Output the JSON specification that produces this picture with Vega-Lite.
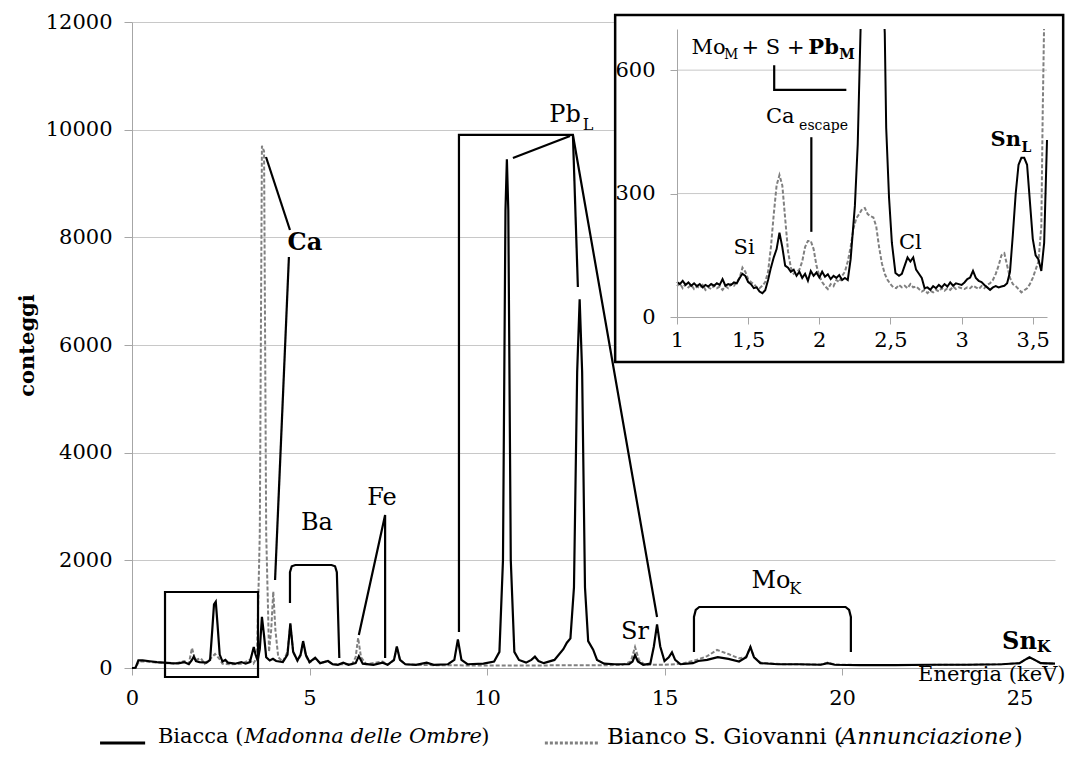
{
"$schema":"https://vega.github.io/schema/vega-lite/v6.json",
"width":923,"height":639,
"autosize":{"type":"none"},
"padding":{"left":132,"top":29,"right":14,"bottom":90},
"background":"white",
"config":{"view":{"stroke":null},"font":"DejaVu Serif",
 "text":{"font":"DejaVu Serif"},
 "axis":{"labelFont":"DejaVu Serif","titleFont":"DejaVu Serif","labelColor":"black","titleColor":"black","domainColor":"#A6A6A6","tickColor":"#A6A6A6","gridColor":"#C8C8C8","labelFontSize":21,"labelOverlap":false,"labelFlush":false}},
"datasets":{
"mainBlack":[{"x":0,"y":0},{"x":0.1,"y":5},{"x":0.18,"y":140},{"x":0.3,"y":140},{"x":0.5,"y":125},{"x":0.7,"y":110},{"x":0.9,"y":100},{"x":1.1,"y":90},{"x":1.3,"y":85},{"x":1.47,"y":110},{"x":1.6,"y":70},{"x":1.68,"y":140},{"x":1.74,"y":210},{"x":1.8,"y":130},{"x":1.9,"y":110},{"x":2.1,"y":100},{"x":2.2,"y":150},{"x":2.26,"y":700},{"x":2.31,"y":1180},{"x":2.36,"y":1230},{"x":2.41,"y":800},{"x":2.47,"y":250},{"x":2.55,"y":120},{"x":2.63,"y":150},{"x":2.7,"y":100},{"x":2.9,"y":80},{"x":3.08,"y":110},{"x":3.2,"y":80},{"x":3.32,"y":110},{"x":3.38,"y":260},{"x":3.43,"y":390},{"x":3.48,"y":250},{"x":3.54,"y":140},{"x":3.6,"y":350},{"x":3.66,"y":950},{"x":3.72,"y":600},{"x":3.78,"y":200},{"x":3.88,"y":140},{"x":3.97,"y":170},{"x":4.06,"y":130},{"x":4.25,"y":110},{"x":4.38,"y":250},{"x":4.46,"y":830},{"x":4.54,"y":300},{"x":4.66,"y":140},{"x":4.75,"y":250},{"x":4.82,"y":500},{"x":4.9,"y":240},{"x":5.0,"y":110},{"x":5.16,"y":190},{"x":5.3,"y":90},{"x":5.52,"y":130},{"x":5.65,"y":70},{"x":5.8,"y":60},{"x":5.95,"y":100},{"x":6.1,"y":60},{"x":6.3,"y":90},{"x":6.39,"y":220},{"x":6.5,"y":80},{"x":6.8,"y":60},{"x":7.06,"y":100},{"x":7.2,"y":60},{"x":7.38,"y":150},{"x":7.46,"y":400},{"x":7.55,"y":150},{"x":7.7,"y":70},{"x":8.0,"y":60},{"x":8.3,"y":100},{"x":8.5,"y":60},{"x":8.9,"y":70},{"x":9.08,"y":150},{"x":9.18,"y":530},{"x":9.28,"y":150},{"x":9.45,"y":70},{"x":9.9,"y":80},{"x":10.2,"y":120},{"x":10.35,"y":300},{"x":10.45,"y":2000},{"x":10.52,"y":8500},{"x":10.56,"y":9450},{"x":10.6,"y":8500},{"x":10.67,"y":2000},{"x":10.77,"y":300},{"x":10.9,"y":150},{"x":11.1,"y":100},{"x":11.25,"y":150},{"x":11.35,"y":210},{"x":11.45,"y":130},{"x":11.6,"y":90},{"x":11.9,"y":150},{"x":12.15,"y":350},{"x":12.25,"y":470},{"x":12.35,"y":550},{"x":12.45,"y":1500},{"x":12.54,"y":5500},{"x":12.61,"y":6850},{"x":12.68,"y":5500},{"x":12.76,"y":1500},{"x":12.85,"y":500},{"x":12.99,"y":340},{"x":13.1,"y":150},{"x":13.3,"y":80},{"x":13.6,"y":70},{"x":14.0,"y":70},{"x":14.1,"y":120},{"x":14.17,"y":240},{"x":14.25,"y":120},{"x":14.4,"y":60},{"x":14.6,"y":80},{"x":14.7,"y":400},{"x":14.79,"y":810},{"x":14.88,"y":400},{"x":15.0,"y":130},{"x":15.12,"y":200},{"x":15.21,"y":290},{"x":15.3,"y":150},{"x":15.45,"y":70},{"x":15.8,"y":90},{"x":15.95,"y":130},{"x":16.2,"y":150},{"x":16.5,"y":200},{"x":16.8,"y":170},{"x":17.1,"y":120},{"x":17.3,"y":200},{"x":17.42,"y":390},{"x":17.52,"y":200},{"x":17.7,"y":90},{"x":18.2,"y":70},{"x":18.8,"y":70},{"x":19.4,"y":60},{"x":19.6,"y":90},{"x":19.8,"y":60},{"x":20.5,"y":55},{"x":21.5,"y":55},{"x":22.5,"y":60},{"x":23.5,"y":60},{"x":24.5,"y":70},{"x":25.0,"y":90},{"x":25.15,"y":150},{"x":25.28,"y":200},{"x":25.4,"y":160},{"x":25.6,"y":90},{"x":26,"y":80}],
"mainGray":[{"x":0,"y":0},{"x":0.1,"y":5},{"x":0.2,"y":120},{"x":0.4,"y":120},{"x":0.6,"y":105},{"x":0.9,"y":95},{"x":1.2,"y":80},{"x":1.47,"y":130},{"x":1.6,"y":80},{"x":1.69,"y":370},{"x":1.78,"y":150},{"x":1.94,"y":180},{"x":2.05,"y":80},{"x":2.25,"y":200},{"x":2.34,"y":260},{"x":2.45,"y":180},{"x":2.55,"y":80},{"x":2.8,"y":70},{"x":3.1,"y":80},{"x":3.3,"y":150},{"x":3.42,"y":80},{"x":3.52,"y":200},{"x":3.6,"y":2500},{"x":3.66,"y":9700},{"x":3.72,"y":9600},{"x":3.78,"y":2500},{"x":3.86,"y":300},{"x":3.92,"y":700},{"x":3.98,"y":1420},{"x":4.04,"y":700},{"x":4.12,"y":200},{"x":4.25,"y":120},{"x":4.38,"y":300},{"x":4.46,"y":800},{"x":4.54,"y":300},{"x":4.66,"y":130},{"x":4.75,"y":230},{"x":4.82,"y":470},{"x":4.9,"y":220},{"x":5.0,"y":100},{"x":5.16,"y":180},{"x":5.3,"y":90},{"x":5.52,"y":130},{"x":5.65,"y":70},{"x":5.9,"y":70},{"x":6.2,"y":70},{"x":6.3,"y":200},{"x":6.37,"y":560},{"x":6.45,"y":200},{"x":6.6,"y":70},{"x":7.06,"y":120},{"x":7.2,"y":60},{"x":7.38,"y":140},{"x":7.46,"y":380},{"x":7.55,"y":150},{"x":7.7,"y":70},{"x":8.2,"y":55},{"x":9.0,"y":50},{"x":10.0,"y":45},{"x":11,"y":45},{"x":12,"y":50},{"x":13,"y":50},{"x":13.8,"y":55},{"x":14.05,"y":120},{"x":14.17,"y":390},{"x":14.28,"y":150},{"x":14.45,"y":60},{"x":15,"y":60},{"x":15.5,"y":80},{"x":15.95,"y":160},{"x":16.2,"y":220},{"x":16.48,"y":335},{"x":16.8,"y":260},{"x":17.1,"y":180},{"x":17.3,"y":200},{"x":17.42,"y":390},{"x":17.52,"y":200},{"x":17.7,"y":100},{"x":18.3,"y":70},{"x":19.4,"y":65},{"x":19.6,"y":100},{"x":19.8,"y":65},{"x":20.5,"y":55},{"x":21.5,"y":55},{"x":22.5,"y":58},{"x":23.5,"y":60},{"x":24.5,"y":70},{"x":25.0,"y":90},{"x":25.2,"y":170},{"x":25.3,"y":190},{"x":25.45,"y":140},{"x":25.6,"y":90},{"x":26,"y":80}],
"insetBlack":[{"x":1.0,"y":85},{"x":1.02,"y":80},{"x":1.04,"y":88},{"x":1.06,"y":78},{"x":1.08,"y":84},{"x":1.1,"y":76},{"x":1.12,"y":82},{"x":1.14,"y":75},{"x":1.16,"y":80},{"x":1.18,"y":72},{"x":1.2,"y":78},{"x":1.22,"y":74},{"x":1.24,"y":80},{"x":1.26,"y":76},{"x":1.28,"y":82},{"x":1.3,"y":78},{"x":1.32,"y":92},{"x":1.34,"y":76},{"x":1.36,"y":80},{"x":1.38,"y":78},{"x":1.4,"y":84},{"x":1.42,"y":82},{"x":1.44,"y":95},{"x":1.46,"y":105},{"x":1.48,"y":100},{"x":1.5,"y":85},{"x":1.52,"y":80},{"x":1.54,"y":70},{"x":1.56,"y":72},{"x":1.58,"y":62},{"x":1.6,"y":58},{"x":1.62,"y":65},{"x":1.64,"y":90},{"x":1.66,"y":120},{"x":1.68,"y":145},{"x":1.7,"y":165},{"x":1.72,"y":205},{"x":1.74,"y":170},{"x":1.76,"y":125},{"x":1.78,"y":120},{"x":1.8,"y":110},{"x":1.82,"y":115},{"x":1.84,"y":100},{"x":1.86,"y":110},{"x":1.88,"y":95},{"x":1.9,"y":105},{"x":1.92,"y":88},{"x":1.94,"y":112},{"x":1.96,"y":100},{"x":1.98,"y":108},{"x":2.0,"y":96},{"x":2.02,"y":110},{"x":2.04,"y":98},{"x":2.06,"y":104},{"x":2.08,"y":92},{"x":2.1,"y":100},{"x":2.12,"y":95},{"x":2.14,"y":102},{"x":2.16,"y":90},{"x":2.18,"y":95},{"x":2.2,"y":90},{"x":2.22,"y":140},{"x":2.25,"y":270},{"x":2.27,"y":420},{"x":2.29,"y":700},{"x":2.32,"y":1100},{"x":2.36,"y":1230},{"x":2.4,"y":1150},{"x":2.44,"y":850},{"x":2.46,"y":690},{"x":2.47,"y":460},{"x":2.49,"y":290},{"x":2.51,"y":180},{"x":2.535,"y":107},{"x":2.56,"y":100},{"x":2.58,"y":105},{"x":2.6,"y":125},{"x":2.62,"y":145},{"x":2.64,"y":135},{"x":2.66,"y":145},{"x":2.68,"y":115},{"x":2.7,"y":105},{"x":2.72,"y":95},{"x":2.74,"y":70},{"x":2.76,"y":72},{"x":2.78,"y":66},{"x":2.8,"y":75},{"x":2.82,"y":70},{"x":2.84,"y":78},{"x":2.86,"y":72},{"x":2.88,"y":80},{"x":2.9,"y":74},{"x":2.92,"y":84},{"x":2.94,"y":76},{"x":2.96,"y":82},{"x":2.98,"y":80},{"x":3.0,"y":78},{"x":3.02,"y":84},{"x":3.04,"y":92},{"x":3.06,"y":96},{"x":3.08,"y":112},{"x":3.1,"y":95},{"x":3.12,"y":88},{"x":3.14,"y":85},{"x":3.16,"y":78},{"x":3.18,"y":72},{"x":3.2,"y":66},{"x":3.22,"y":72},{"x":3.24,"y":75},{"x":3.26,"y":72},{"x":3.28,"y":74},{"x":3.3,"y":76},{"x":3.32,"y":82},{"x":3.34,"y":110},{"x":3.36,"y":200},{"x":3.38,"y":300},{"x":3.4,"y":370},{"x":3.42,"y":387},{"x":3.44,"y":387},{"x":3.46,"y":370},{"x":3.48,"y":280},{"x":3.5,"y":190},{"x":3.52,"y":150},{"x":3.54,"y":140},{"x":3.56,"y":112},{"x":3.58,"y":180},{"x":3.6,"y":430}],
"insetGray":[{"x":1.0,"y":75},{"x":1.02,"y":82},{"x":1.04,"y":70},{"x":1.06,"y":80},{"x":1.08,"y":72},{"x":1.1,"y":78},{"x":1.12,"y":68},{"x":1.14,"y":74},{"x":1.16,"y":70},{"x":1.18,"y":78},{"x":1.2,"y":66},{"x":1.22,"y":72},{"x":1.24,"y":68},{"x":1.26,"y":76},{"x":1.28,"y":70},{"x":1.3,"y":74},{"x":1.32,"y":66},{"x":1.34,"y":75},{"x":1.36,"y":70},{"x":1.38,"y":80},{"x":1.4,"y":76},{"x":1.42,"y":85},{"x":1.44,"y":95},{"x":1.46,"y":120},{"x":1.48,"y":110},{"x":1.5,"y":92},{"x":1.52,"y":85},{"x":1.54,"y":80},{"x":1.56,"y":72},{"x":1.58,"y":70},{"x":1.6,"y":76},{"x":1.62,"y":85},{"x":1.64,"y":110},{"x":1.66,"y":170},{"x":1.68,"y":250},{"x":1.7,"y":320},{"x":1.72,"y":345},{"x":1.74,"y":320},{"x":1.76,"y":240},{"x":1.78,"y":160},{"x":1.8,"y":120},{"x":1.82,"y":105},{"x":1.84,"y":110},{"x":1.86,"y":115},{"x":1.88,"y":135},{"x":1.9,"y":170},{"x":1.92,"y":185},{"x":1.94,"y":185},{"x":1.96,"y":165},{"x":1.98,"y":125},{"x":2.0,"y":100},{"x":2.02,"y":85},{"x":2.04,"y":75},{"x":2.06,"y":68},{"x":2.08,"y":80},{"x":2.1,"y":75},{"x":2.12,"y":90},{"x":2.14,"y":85},{"x":2.16,"y":100},{"x":2.18,"y":110},{"x":2.2,"y":135},{"x":2.22,"y":170},{"x":2.24,"y":215},{"x":2.26,"y":240},{"x":2.28,"y":250},{"x":2.3,"y":262},{"x":2.32,"y":265},{"x":2.34,"y":250},{"x":2.36,"y":245},{"x":2.38,"y":242},{"x":2.4,"y":220},{"x":2.42,"y":170},{"x":2.44,"y":130},{"x":2.46,"y":105},{"x":2.48,"y":90},{"x":2.5,"y":80},{"x":2.52,"y":72},{"x":2.54,"y":70},{"x":2.56,"y":78},{"x":2.58,"y":72},{"x":2.6,"y":76},{"x":2.62,"y":70},{"x":2.64,"y":80},{"x":2.66,"y":72},{"x":2.68,"y":74},{"x":2.7,"y":68},{"x":2.72,"y":62},{"x":2.74,"y":66},{"x":2.76,"y":58},{"x":2.78,"y":64},{"x":2.8,"y":60},{"x":2.82,"y":66},{"x":2.84,"y":62},{"x":2.86,"y":70},{"x":2.88,"y":64},{"x":2.9,"y":70},{"x":2.92,"y":66},{"x":2.94,"y":74},{"x":2.96,"y":68},{"x":2.98,"y":72},{"x":3.0,"y":70},{"x":3.02,"y":68},{"x":3.04,"y":72},{"x":3.06,"y":70},{"x":3.08,"y":76},{"x":3.1,"y":72},{"x":3.12,"y":68},{"x":3.14,"y":75},{"x":3.16,"y":70},{"x":3.18,"y":78},{"x":3.2,"y":82},{"x":3.22,"y":90},{"x":3.24,"y":105},{"x":3.26,"y":125},{"x":3.28,"y":150},{"x":3.3,"y":155},{"x":3.32,"y":125},{"x":3.34,"y":95},{"x":3.36,"y":80},{"x":3.38,"y":75},{"x":3.4,"y":68},{"x":3.42,"y":60},{"x":3.44,"y":65},{"x":3.46,"y":70},{"x":3.48,"y":80},{"x":3.5,"y":95},{"x":3.52,"y":115},{"x":3.54,"y":135},{"x":3.56,"y":220},{"x":3.57,"y":500},{"x":3.58,"y":720},{"x":3.6,"y":900}],
"mainPaths":[
{"id":"ca1","i":0,"x":3.775,"y":9492},{"id":"ca1","i":1,"x":4.45,"y":8136},
{"id":"ca2","i":0,"x":4.42,"y":7635},{"id":"ca2","i":1,"x":4.03,"y":1635},
{"id":"ba","i":0,"x":4.45,"y":1207},{"id":"ba","i":1,"x":4.45,"y":1780},{"id":"ba","i":2,"x":4.5,"y":1890},{"id":"ba","i":3,"x":4.6,"y":1913},{"id":"ba","i":4,"x":5.62,"y":1913},{"id":"ba","i":5,"x":5.72,"y":1890},{"id":"ba","i":6,"x":5.77,"y":1780},{"id":"ba","i":7,"x":5.84,"y":186},
{"id":"fe","i":0,"x":6.39,"y":613},{"id":"fe","i":1,"x":7.13,"y":2842},{"id":"fe","i":2,"x":7.13,"y":186},
{"id":"pb1","i":0,"x":9.21,"y":669},{"id":"pb1","i":1,"x":9.21,"y":9902},{"id":"pb1","i":2,"x":12.42,"y":9902},{"id":"pb1","i":3,"x":14.79,"y":947},
{"id":"pb2","i":0,"x":12.42,"y":9902},{"id":"pb2","i":1,"x":12.56,"y":7078},
{"id":"pb3","i":0,"x":10.73,"y":9474},{"id":"pb3","i":1,"x":12.34,"y":9883},
{"id":"mo","i":0,"x":15.83,"y":297},{"id":"mo","i":1,"x":15.83,"y":950},{"id":"mo","i":2,"x":15.88,"y":1080},{"id":"mo","i":3,"x":15.98,"y":1133},{"id":"mo","i":4,"x":20.1,"y":1133},{"id":"mo","i":5,"x":20.2,"y":1080},{"id":"mo","i":6,"x":20.25,"y":950},{"id":"mo","i":7,"x":20.25,"y":297}],
"mainText":[{"x":5.21,"y":2694,"t":"Ba"},{"x":7.04,"y":3158,"t":"Fe"},{"x":12.2,"y":10273,"t":"Pb"},{"x":14.17,"y":669,"t":"Sr"},{"x":18.0,"y":1616,"t":"Mo"}],
"mainSub":[{"x":12.85,"y":10087,"t":"L"},{"x":18.68,"y":1467,"t":"K"}],
"mainBold":[{"x":4.87,"y":7895,"t":"Ca"},{"x":25.0,"y":483,"t":"Sn"}],
"mainBoldSub":[{"x":25.68,"y":390,"t":"K"}],
"zoomBox":[{"x":0.93,"x2":3.55,"y":-167,"y2":1412}],
"frame":[{"x":13.61,"x2":26.23,"y":5684,"y2":12130}],
"legendSolid":[{"x":-0.9,"x2":0.37,"y":-1393}],
"legendDash":[{"x":11.63,"x2":13.18,"y":-1393}],
"legendText":[{"x":0.73,"y":-1282,"t":"Biacca ("},{"x":9.84,"y":-1282,"t":")"}],
"legendItalic":[{"x":3.16,"y":-1282,"t":"Madonna delle Ombre"}],
"legendText2":[{"x":13.38,"y":-1282,"t":"Bianco S. Giovanni ("},{"x":24.84,"y":-1282,"t":")"}],
"legendItalic2":[{"x":19.96,"y":-1282,"t":"Annunciazione"}],
"insetGrid":[{"x":1,"x2":3.6,"y":300},{"x":1,"x2":3.6,"y":600}],
"insetPaths":[{"id":"esc","i":0,"x":1.944,"y":437},{"id":"esc","i":1,"x":1.944,"y":207},{"id":"mom","i":0,"x":1.683,"y":612},{"id":"mom","i":1,"x":1.683,"y":552},{"id":"mom","i":2,"x":2.19,"y":552}],
"insetText":[{"x":1.472,"y":168,"t":"Si"},{"x":2.64,"y":180,"t":"Cl"},{"x":1.725,"y":486,"t":"Ca"},{"x":1.222,"y":654,"t":"Mo"},{"x":1.675,"y":654,"t":"+ S +"}],
"insetSub":[{"x":1.38,"y":637,"t":"M"},{"x":2.03,"y":464,"t":"escape"}],
"insetBold":[{"x":2.03,"y":654,"t":"Pb"},{"x":3.31,"y":430,"t":"Sn"}],
"insetBoldSub":[{"x":2.195,"y":637,"t":"M"},{"x":3.455,"y":411,"t":"L"}]
},
"layer":[
{
 "encoding":{
  "x":{"field":"x","type":"quantitative","scale":{"domain":[0,26],"nice":false,"zero":false},
       "axis":{"values":[0,5,10,15,20,25],"grid":false,"tickSize":7,"labelPadding":12,"title":"Energia (keV)","titleFontSize":21,"titleFontWeight":"normal","titleX":933,"titleY":6,"titleAlign":"right","titleBaseline":"middle","titleAngle":0,"zindex":0}},
  "y":{"field":"y","type":"quantitative","scale":{"domain":[0,12000],"nice":false,"zero":false,"range":[639,-7]},
       "axis":{"values":[0,2000,4000,6000,8000,10000,12000],"format":"d","grid":true,"tickSize":8,"labelPadding":12,"title":"conteggi","titleFontSize":21,"titleFontWeight":"bold","titlePadding":8,"zindex":0}}
 },
 "layer":[
  {"data":{"name":"mainGray"},"mark":{"type":"line","color":"#808080","strokeWidth":2,"strokeDash":[4,2]}},
  {"data":{"name":"mainBlack"},"mark":{"type":"line","color":"black","strokeWidth":2.2}},
  {"data":{"name":"mainPaths"},"mark":{"type":"line","color":"black","strokeWidth":2.2},"encoding":{"detail":{"field":"id"},"order":{"field":"i","type":"quantitative"}}},
  {"data":{"name":"mainText"},"mark":{"type":"text","fontSize":24,"align":"center","baseline":"middle","color":"black"},"encoding":{"text":{"field":"t"}}},
  {"data":{"name":"mainSub"},"mark":{"type":"text","fontSize":16,"align":"center","baseline":"middle","color":"black"},"encoding":{"text":{"field":"t"}}},
  {"data":{"name":"mainBold"},"mark":{"type":"text","fontSize":24,"fontWeight":"bold","align":"center","baseline":"middle","color":"black"},"encoding":{"text":{"field":"t"}}},
  {"data":{"name":"mainBoldSub"},"mark":{"type":"text","fontSize":16,"fontWeight":"bold","align":"center","baseline":"middle","color":"black"},"encoding":{"text":{"field":"t"}}},
  {"data":{"name":"zoomBox"},"mark":{"type":"rect","fill":null,"fillOpacity":0,"stroke":"black","strokeWidth":2.2,"clip":false},"encoding":{"x2":{"field":"x2"},"y2":{"field":"y2"}}},
  {"data":{"name":"frame"},"mark":{"type":"rect","fill":"white","stroke":"black","strokeWidth":2.5,"clip":false},"encoding":{"x2":{"field":"x2"},"y2":{"field":"y2"}}},
  {"data":{"name":"legendSolid"},"mark":{"type":"rule","color":"black","strokeWidth":3,"clip":false},"encoding":{"x2":{"field":"x2"}}},
  {"data":{"name":"legendDash"},"mark":{"type":"rule","color":"#808080","strokeWidth":3,"strokeDash":[3,2],"clip":false},"encoding":{"x2":{"field":"x2"}}},
  {"data":{"name":"legendText"},"mark":{"type":"text","fontSize":21,"align":"left","baseline":"middle","color":"black","clip":false},"encoding":{"text":{"field":"t"}}},
  {"data":{"name":"legendItalic"},"mark":{"type":"text","fontSize":21,"fontStyle":"italic","align":"left","baseline":"middle","color":"black","clip":false},"encoding":{"text":{"field":"t"}}},
  {"data":{"name":"legendText2"},"mark":{"type":"text","fontSize":23,"align":"left","baseline":"middle","color":"black","clip":false},"encoding":{"text":{"field":"t"}}},
  {"data":{"name":"legendItalic2"},"mark":{"type":"text","fontSize":23,"fontStyle":"italic","align":"left","baseline":"middle","color":"black","clip":false},"encoding":{"text":{"field":"t"}}}
 ]
},
{
 "encoding":{
  "x":{"field":"x","type":"quantitative","scale":{"domain":[1,3.6],"nice":false,"zero":false,"range":[545,915]},
       "axis":{"orient":"bottom","offset":-351,"values":[1,1.5,2,2.5,3,3.5],"labelExpr":"replace(toString(datum.value), '.', ',')","grid":false,"tickSize":7,"labelPadding":5,"title":null,"zindex":2}},
  "y":{"field":"y","type":"quantitative","scale":{"domain":[0,700],"nice":false,"zero":false,"range":[288,0]},
       "axis":{"orient":"left","offset":-545,"values":[0,300,600],"grid":false,"tickSize":7,"labelPadding":15,"title":null,"zindex":2}}
 },
 "layer":[
  {"data":{"name":"insetGrid"},"mark":{"type":"rule","color":"#C8C8C8","strokeWidth":1},"encoding":{"x2":{"field":"x2"}}},
  {"data":{"name":"insetGray"},"mark":{"type":"line","color":"#808080","strokeWidth":2,"strokeDash":[4,2],"clip":true}},
  {"data":{"name":"insetBlack"},"mark":{"type":"line","color":"black","strokeWidth":2,"clip":true}},
  {"data":{"name":"insetPaths"},"mark":{"type":"line","color":"black","strokeWidth":2.2},"encoding":{"detail":{"field":"id"},"order":{"field":"i","type":"quantitative"}}},
  {"data":{"name":"insetText"},"mark":{"type":"text","fontSize":21,"align":"center","baseline":"middle","color":"black"},"encoding":{"text":{"field":"t"}}},
  {"data":{"name":"insetSub"},"mark":{"type":"text","fontSize":14,"align":"center","baseline":"middle","color":"black"},"encoding":{"text":{"field":"t"}}},
  {"data":{"name":"insetBold"},"mark":{"type":"text","fontSize":21,"fontWeight":"bold","align":"center","baseline":"middle","color":"black"},"encoding":{"text":{"field":"t"}}},
  {"data":{"name":"insetBoldSub"},"mark":{"type":"text","fontSize":14,"fontWeight":"bold","align":"center","baseline":"middle","color":"black"},"encoding":{"text":{"field":"t"}}}
 ]
}
],
"resolve":{"scale":{"x":"independent","y":"independent"},"axis":{"x":"independent","y":"independent"}}
}
